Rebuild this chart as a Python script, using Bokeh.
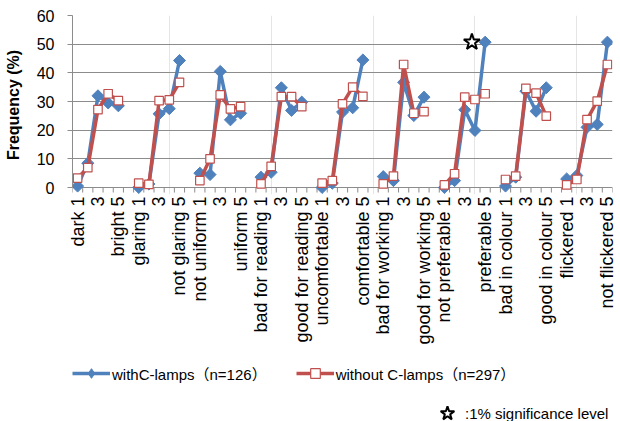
import math
from bokeh.plotting import figure
from bokeh.layouts import column
from bokeh.models import Range1d, FixedTicker, Legend, LegendItem, LinearAxis
from bokeh.embed import file_html
from bokeh.resources import INLINE

# ---------------- data ----------------
scale_neg = ["dark", "glaring", "not uniform", "bad for reading", "uncomfortable",
             "bad for working", "not preferable", "bad in colour", "flickered"]
scale_pos = ["bright", "not glaring", "uniform", "good for reading", "comfortable",
             "good for working", "preferable", "good in colour", "not flickered"]
scale_points = [1, 2, 3, 4, 5]

# Frequency (%) for each group, scale points 1..5
with_c = [0.5, 8.5, 32.0, 29.5, 28.5,
          0.0, 1.2, 25.7, 27.5, 44.3,
          5.0, 4.5, 40.5, 23.6, 25.9,
          3.6, 5.3, 34.8, 26.9, 29.8,
          0.0, 1.5, 26.3, 27.8, 44.5,
          3.8, 2.4, 36.7, 25.1, 31.5,
          0.0, 2.4, 27.1, 19.9, 50.7,
          0.5, 3.6, 33.6, 26.6, 34.8,
          3.0, 4.2, 21.0, 22.0, 50.7]
without_c = [3.3, 6.9, 27.2, 32.7, 30.3,
             1.5, 1.1, 30.3, 30.6, 36.7,
             2.4, 10.0, 32.3, 27.4, 28.2,
             1.3, 7.4, 31.7, 31.7, 28.2,
             1.5, 2.4, 29.2, 35.0, 31.8,
             1.3, 4.0, 42.9, 25.9, 26.5,
             0.9, 4.8, 31.5, 30.7, 32.7,
             2.8, 4.0, 34.6, 32.9, 24.9,
             0.9, 2.8, 23.7, 30.1, 42.9]
y_ticks = [0, 10, 20, 30, 40, 50, 60]
label_with = "withC-lamps（n=126）"
label_without = "without C-lamps（n=297）"
note_text = ":1% significance level"
# significant item marker (preferable, with C-lamps)
star_cat = 39.7
star_val = 50.7

# ---------------- build positions ----------------
n_pts = len(scale_points)
span = n_pts + 1
n_groups = len(scale_neg)
xs, yb, yr = [], [], []
for g in range(n_groups):
    for i, s in enumerate(scale_points):
        xs.append(g * span + s)
        yb.append(with_c[g * n_pts + i])
        yr.append(without_c[g * n_pts + i])
    if g < n_groups - 1:
        xs.append(g * span + span)
        yb.append(float("nan"))
        yr.append(float("nan"))

n_cats = n_groups * span - 1
major = []
overrides = {}
for g in range(n_groups):
    major += [g * span + 1, g * span + 3, g * span + 5]
    overrides[g * span + 1] = f"{scale_neg[g]} 1"
    overrides[g * span + 3] = "3"
    overrides[g * span + 5] = f"{scale_pos[g]} 5"
boundaries = [k + 0.5 for k in range(0, n_cats + 1)]

BLUE = "#4F81BD"
RED = "#C0504D"
GRID = "#8C8C8C"
FONT = "Liberation Sans, Noto Sans CJK JP"

W = 620
H1 = 352
H2 = 421 - H1
Y_LOW = -2.44          # small room under 0 so markers at 0 are not cut
TICK_DEPTH = -1.75     # category tick marks hang ~5px below the 0 line

p = figure(width=W, height=H1, output_backend="svg", toolbar_location=None,
           x_range=Range1d(0.5, n_cats + 0.5), y_range=Range1d(Y_LOW, 60),
           x_axis_location=None,
           min_border_left=72, min_border_right=8, min_border_top=15,
           min_border_bottom=H1 - 15 - 179)
p.frame_align = False
p.outline_line_color = None
p.background_fill_color = "white"
p.border_fill_color = "white"

label_axis = LinearAxis(ticker=FixedTicker(ticks=major),
                        major_label_overrides=overrides,
                        major_label_orientation=math.pi / 2,
                        major_tick_line_color=None, major_tick_in=0, major_tick_out=0,
                        minor_tick_line_color=None, axis_line_color=None,
                        major_label_standoff=2,
                        major_label_text_font=FONT, major_label_text_font_size="18px",
                        major_label_text_color="black")
p.add_layout(label_axis, "below")

p.yaxis.ticker = FixedTicker(ticks=y_ticks)
p.yaxis.bounds = (0, 60)
p.yaxis.axis_line_color = GRID
p.yaxis.major_tick_line_color = GRID
p.yaxis.major_tick_out = 5
p.yaxis.major_tick_in = 0
p.yaxis.minor_tick_line_color = None
p.yaxis.major_label_standoff = 13
p.yaxis.major_label_text_font = FONT
p.yaxis.major_label_text_font_size = "16px"
p.yaxis.major_label_text_color = "black"
p.yaxis.axis_label = "Frequency (%)"
p.yaxis.axis_label_text_font = FONT
p.yaxis.axis_label_text_font_size = "16px"
p.yaxis.axis_label_text_font_style = "bold"
p.yaxis.axis_label_text_color = "black"
p.yaxis.axis_label_standoff = 12

p.ygrid.ticker = FixedTicker(ticks=y_ticks)
p.ygrid.grid_line_color = GRID
p.ygrid.grid_line_width = 1

# category boundary tick marks on the category axis
p.segment(x0=boundaries, y0=[0] * len(boundaries), x1=boundaries,
          y1=[TICK_DEPTH] * len(boundaries), line_color=GRID, line_width=1)

# series
rb_line = p.line(xs, yb, line_color=BLUE, line_width=3.5)
rb_pts = p.scatter(xs, yb, marker="square", angle=math.pi / 4, size=8.5,
                   fill_color=BLUE, line_color=BLUE)
rr_line = p.line(xs, yr, line_color=RED, line_width=3.5)
rr_pts = p.scatter(xs, yr, marker="square", size=8.5, fill_color="white",
                   line_color=RED, line_width=1.2)

p.scatter([star_cat], [star_val], marker="star", size=17, fill_color="white",
          line_color="black", line_width=2)

# ---------------- legend / note strip ----------------
q = figure(width=W, height=H2, output_backend="svg", toolbar_location=None,
           x_axis_type=None, y_axis_type=None,
           x_range=Range1d(-200, -100), y_range=Range1d(-200, -100),
           min_border=0, min_border_left=0, min_border_right=0,
           min_border_top=0, min_border_bottom=0)
q.frame_align = False
q.outline_line_color = None
q.grid.visible = False
q.background_fill_color = "white"
q.border_fill_color = "white"

# legend keys (same series; the strip's ranges keep them out of view)
lb_line = q.line(xs, yb, line_color=BLUE, line_width=3.5)
lb_pts = q.scatter(xs, yb, marker="diamond", size=13,
                   fill_color=BLUE, line_color=BLUE)
lr_line = q.line(xs, yr, line_color=RED, line_width=3.5)
lr_pts = q.scatter(xs, yr, marker="square", size=8.5, fill_color="white",
                   line_color=RED, line_width=1.2)
ls_star = q.scatter([star_cat], [star_val], marker="star", size=15, fill_color="white",
                    line_color="black", line_width=2)

legend = Legend(items=[LegendItem(label=label_with, renderers=[lb_line, lb_pts]),
                       LegendItem(label=label_without, renderers=[lr_line, lr_pts])],
                location=(72, 36), orientation="horizontal", padding=0, margin=0,
                spacing=29, glyph_width=38, glyph_height=24, label_standoff=2,
                border_line_color=None, background_fill_alpha=0,
                label_text_font=FONT, label_text_font_size="15px",
                label_text_color="black")
q.add_layout(legend)

note = Legend(items=[LegendItem(label=note_text, renderers=[ls_star])],
              location=(429, -10), orientation="horizontal", padding=0, margin=0,
              glyph_width=36, glyph_height=36, label_standoff=-2,
              border_line_color=None, background_fill_alpha=0,
              label_text_font=FONT, label_text_font_size="15px",
              label_text_color="black")
q.add_layout(note)

layout = column(p, q, spacing=0)
open("out.html", "w").write(file_html(layout, INLINE))
